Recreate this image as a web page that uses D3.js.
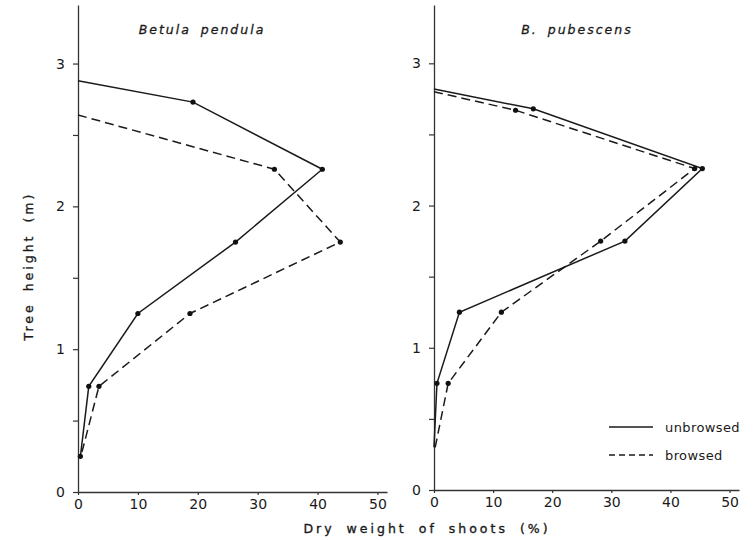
<!DOCTYPE html>
<html>
<head>
<meta charset="utf-8">
<script src="https://cdn.jsdelivr.net/npm/d3@7"></script>
<style>
  body { margin: 0; background: #fff; }
  svg { display: block; }
  text { font-family: "DejaVu Sans", sans-serif; fill: #1a1a1a; }
</style>
</head>
<body>
<div id="chart"></div>
<script>
// data: % dry weight of shoots vs tree height (m)
const pendulaUnbrowsedPct = [0, 19.2, 40.8, 26.3, 10.0, 1.8, 0.4];
const pendulaUnbrowsedHt  = [2.88, 2.73, 2.26, 1.75, 1.25, 0.74, 0.25];
const pendulaBrowsedPct   = [0, 32.8, 43.8, 18.7, 3.5, 0.6];
const pendulaBrowsedHt    = [2.64, 2.26, 1.75, 1.25, 0.74, 0.27];

const pubescensUnbrowsedPct = [0, 16.8, 45.4, 32.3, 4.3, 0.5, 0];
const pubescensUnbrowsedHt  = [2.82, 2.68, 2.26, 1.75, 1.25, 0.75, 0.30];
const pubescensBrowsedPct   = [0, 13.8, 44.1, 28.2, 11.4, 2.4, 0.2];
const pubescensBrowsedHt    = [2.80, 2.67, 2.26, 1.75, 1.25, 0.75, 0.30];

const yTicks = [0, 0.5, 1, 1.5, 2, 2.5, 3];
const xTicks = [0, 10, 20, 30, 40, 50];
const legendLabels = ["unbrowsed", "browsed"];

const zip = (xs, ys) => xs.map((x, i) => ({ x: x, y: ys[i] }));

const panels = [
  {
    title: "Betula pendula", titleX: 202,
    left: 78, right: 387, top: 5, bottom: 492,
    series: [
      { pts: zip(pendulaUnbrowsedPct, pendulaUnbrowsedHt), dashed: false, lastDot: true },
      { pts: zip(pendulaBrowsedPct, pendulaBrowsedHt), dashed: true, lastDot: false },
    ]
  },
  {
    title: "B. pubescens", titleX: 577,
    left: 434, right: 739, top: 5, bottom: 490,
    series: [
      { pts: zip(pubescensUnbrowsedPct, pubescensUnbrowsedHt), dashed: false, lastDot: false },
      { pts: zip(pubescensBrowsedPct, pubescensBrowsedHt), dashed: true, lastDot: false },
    ]
  }
];

const width = 756;
const height = 540;

const svg = d3.select("#chart")
  .append("svg")
    .attr("width", width)
    .attr("height", height);

panels.forEach((p, pi) => {
  const xScale = d3.scaleLinear()
    .domain([0, 51.6])
    .range([p.left, p.right]);

  const yScale = d3.scaleLinear()
    .domain([0, 3.41])
    .range([p.bottom, p.top]);

  const g = svg.append("g");

  // axes
  const yAxis = d3.axisLeft(yScale)
    .tickValues(yTicks)
    .tickFormat(d => Number.isInteger(d) ? d : "")
    .tickSize(5)
    .tickSizeOuter(0)
    .tickPadding(8);

  const xAxis = d3.axisBottom(xScale)
    .tickValues(xTicks)
    .tickFormat(d3.format("d"))
    .tickSize(3)
    .tickSizeOuter(0)
    .tickPadding(4);

  const ya = g.append("g")
    .attr("transform", `translate(${p.left},0)`)
    .call(yAxis);

  const xa = g.append("g")
    .attr("transform", `translate(0,${p.bottom})`)
    .call(xAxis);

  [ya, xa].forEach(a => {
    a.select(".domain").attr("stroke", "#333").attr("stroke-width", 1.3);
    a.selectAll(".tick line").attr("stroke", "#333").attr("stroke-width", 1.2);
    a.selectAll(".tick text")
      .style("font-family", "DejaVu Sans, sans-serif")
      .style("font-size", "14px")
      .attr("fill", "#1a1a1a");
  });

  // title
  g.append("text")
    .attr("x", p.titleX)
    .attr("y", 34)
    .attr("text-anchor", "middle")
    .style("font-size", "12.5px")
    .style("font-style", "italic")
    .style("letter-spacing", "2px")
    .style("word-spacing", "4px")
    .attr("stroke", "#1a1a1a")
    .attr("stroke-width", 0.3)
    .text(p.title);

  // lines
  const line = d3.line()
    .x(d => xScale(d.x))
    .y(d => yScale(d.y));

  p.series.forEach(s => {
    g.append("path")
      .datum(s.pts)
      .attr("d", line)
      .attr("fill", "none")
      .attr("stroke", "#1a1a1a")
      .attr("stroke-width", 1.5)
      .attr("stroke-dasharray", s.dashed ? "9,5" : null);

    const dots = s.pts.filter((d, i) => i > 0 && (i < s.pts.length - 1 || s.lastDot));
    g.selectAll(null)
      .data(dots)
      .join("circle")
        .attr("cx", d => xScale(d.x))
        .attr("cy", d => yScale(d.y))
        .attr("r", 2.6)
        .attr("fill", "#111");
  });

  // legend in the right panel
  if (pi === 1) {
    const lg = g.append("g");
    legendLabels.forEach((lab, i) => {
      const yy = 427 + i * 28;
      lg.append("line")
        .attr("x1", 609).attr("x2", 653)
        .attr("y1", yy).attr("y2", yy)
        .attr("stroke", "#1a1a1a")
        .attr("stroke-width", 1.4)
        .attr("stroke-dasharray", i === 1 ? "6,4" : null);
      lg.append("text")
        .attr("x", 665)
        .attr("y", yy + 5)
        .style("font-size", "13px")
        .style("letter-spacing", "0.4px")
        .text(lab);
    });
  }
});

// axis titles
svg.append("text")
  .attr("transform", "translate(33,266) rotate(-90)")
  .attr("text-anchor", "middle")
  .style("font-size", "12.5px")
  .style("letter-spacing", "3px")
  .style("word-spacing", "4px")
  .attr("stroke", "#1a1a1a")
  .attr("stroke-width", 0.35)
  .text("Tree height (m)");

svg.append("text")
  .attr("x", 427)
  .attr("y", 533)
  .attr("text-anchor", "middle")
  .style("font-size", "12.5px")
  .style("letter-spacing", "3px")
  .style("word-spacing", "5px")
  .attr("stroke", "#1a1a1a")
  .attr("stroke-width", 0.35)
  .text("Dry weight of shoots (%)");
</script>
</body>
</html>
